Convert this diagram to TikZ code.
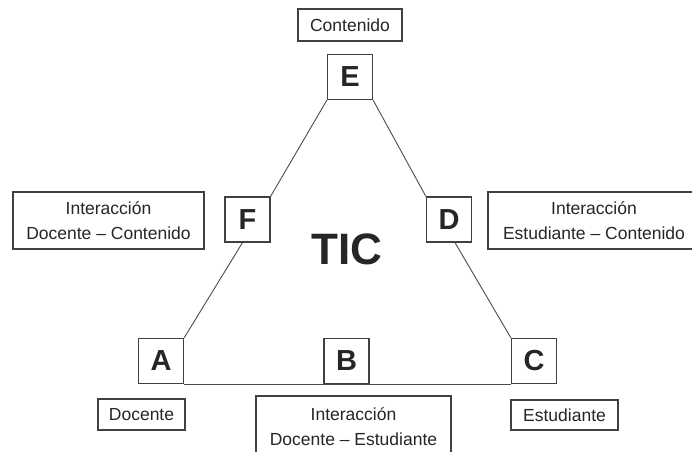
\documentclass[tikz,border=0pt]{standalone}
\usepackage{fontspec}
\setmainfont{Liberation Sans}
\usetikzlibrary{calc}
\tikzset{v/.style={draw=black!75,line width=1.2pt,fill=white,minimum width=45,minimum height=45,inner sep=0pt,font=\fontsize{29}{29}\selectfont\bfseries,text=black!85}}
\tikzset{t/.style={draw=black!75,line width=1.2pt,fill=white,inner sep=0pt,align=center,font=\fontsize{17.5}{25}\selectfont,text=black!85}}
\tikzset{c/.style={draw=black!70,line width=0.9pt}}

\begin{document}
\begin{tikzpicture}[x=1pt,y=-1pt]
  \useasboundingbox (0,0) rectangle (692,451);
  \clip (0,0) rectangle (692,451);
  % corners and midpoints of the triangle
  \node[v] (E) at (350,77) {E};
  \node[v] (F) at (247.5,219.5) {F};
  \node[v] (D) at (449,219.5) {D};
  \node[v] (A) at (161,361) {A};
  \node[v] (B) at (346.5,361) {B};
  \node[v] (C) at (534,361) {C};
  \draw[c] (E.south west) -- (F.north east);
  \draw[c] (E.south east) -- (D.north west);
  \draw[c] ([xshift=-5]F.south) -- (A.north east);
  \draw[c] ([xshift=6]D.south) -- (C.north west);
  \draw[c] (A.south east) -- (C.south west);
  % labels
  \node[t,minimum width=104,minimum height=32] (cont) at (350,25) {Contenido};
  \node[t,minimum width=191,minimum height=57] (idc) at (108.5,220.5) {Interacción\\Docente -- Contenido};
  \node[t,minimum width=212,minimum height=57] (iec) at (594,220.5) {Interacción\\Estudiante -- Contenido};
  \node[t,minimum width=87,minimum height=31] (doc) at (141.5,414.5) {Docente};
  \node[t,minimum width=195,minimum height=62] (ide) at (353.5,427) {Interacción\\Docente -- Estudiante};
  \node[t,minimum width=107,minimum height=30] (est) at (564.5,415) {Estudiante};
  \node[font=\fontsize{44}{44}\selectfont\bfseries,text=black!85] (tic) at (347,249) {TIC};
\end{tikzpicture}
\end{document}
